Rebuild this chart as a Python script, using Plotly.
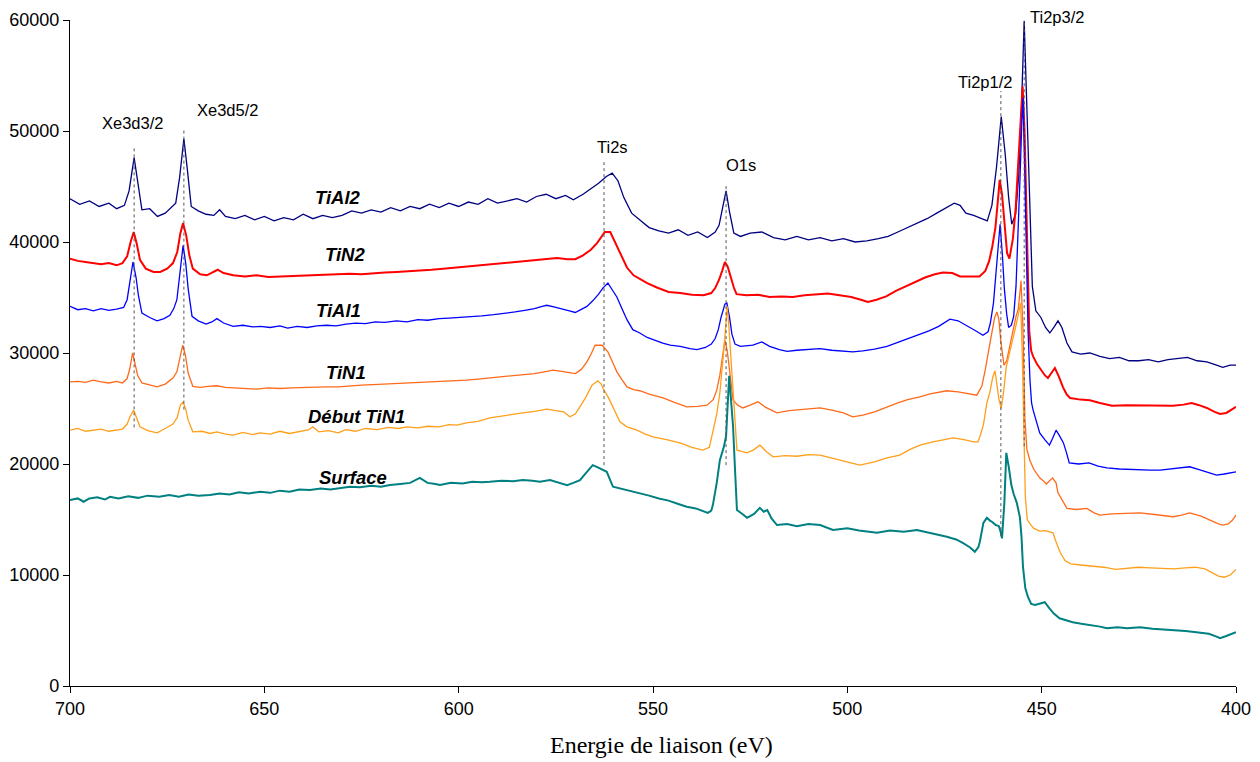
import plotly.graph_objects as go

# ---------------- data (binding energy eV, counts) ----------------
tial2 = [
    (700, 43900), (697.5, 43400), (695, 43700), (692.5, 43200), (690, 43500), (688, 43000), (686, 43300),
    (684.8, 44600), (683.5, 47600), (682.5, 45000), (681.5, 42900), (679.5, 43000), (677.5, 42300),
    (675.5, 42600), (674, 43100), (672.8, 43500), (671.8, 45800), (670.7, 49300), (669.8, 46500),
    (668.8, 43200), (667, 42800), (665, 42500), (663, 42400), (661.5, 42900), (660, 42300), (657.5, 42100),
    (655, 42400), (652.5, 42000), (650, 42300), (647.5, 41900), (645, 42200), (642.5, 42000), (640, 42500),
    (637.5, 42100), (635, 42400), (632.5, 42200), (630, 42400), (627.5, 42800), (625, 42600), (622.5, 42900),
    (620, 42700), (617.5, 43100), (615, 42800), (612.5, 43200), (610, 43000), (607.5, 43400), (605, 43100),
    (602.5, 43500), (600, 43200), (597.5, 43600), (595, 43400), (592.5, 43900), (590, 43500), (587.5, 43700),
    (585, 43900), (582.5, 43600), (580, 44100), (577.5, 44300), (575, 43900), (572.5, 44200), (570.5, 43800),
    (568, 44300), (566, 44800), (564, 45300), (562, 45900), (560.5, 46200), (559, 45500), (557.5, 44000),
    (555.5, 42600), (553.5, 42000), (551, 41300), (548.5, 41000), (546, 40800), (543.5, 41100), (541, 40600),
    (538.5, 40900), (536, 40400), (534, 40900), (533, 41500), (532.2, 42900), (531.2, 44600), (530.3, 42700),
    (529.2, 40800), (527.5, 40500), (525, 40800), (522, 40900), (519, 40400), (516, 40200), (513, 40500),
    (510, 40200), (507, 40400), (504, 40100), (501, 40300), (498, 40000), (495, 40100), (492, 40300),
    (489.5, 40500), (487, 40900), (484.5, 41300), (482, 41700), (479.5, 42100), (477, 42600), (474.5, 43100),
    (472.5, 43500), (471, 43300), (469.5, 42600), (467.5, 42400), (465.5, 42100), (464, 41900), (462.8, 43300),
    (461.6, 46800), (460.4, 51300), (459.4, 48000), (458.5, 44000), (457.7, 41600), (456.7, 42500),
    (455.9, 46000), (455.2, 52000), (454.5, 59900), (453.8, 52000), (453.2, 45000), (452.4, 36000),
    (451.5, 33800), (450.2, 33200), (449, 32300), (447.9, 31800), (446.7, 32400), (445.8, 32900),
    (444.8, 32300), (443.5, 30900), (442.2, 30100), (440, 29900), (437.6, 30000), (435, 29700), (432.5, 29500),
    (430, 29600), (427.5, 29300), (425, 29300), (422.5, 29400), (420, 29200), (417.5, 29400), (415, 29500),
    (412.5, 29600), (410, 29300), (407.5, 29200), (405, 28900), (403.4, 28700), (401.5, 28900), (400, 28900),
]

tin2 = [
    (700, 38500), (698, 38300), (696, 38200), (694, 38100), (692, 38000), (690, 38100), (688, 37900),
    (686.5, 38100), (685.3, 38700), (684.4, 40000), (683.6, 40900), (682.8, 39800), (682, 38400),
    (680.5, 37600), (678.5, 37300), (676.8, 37300), (675, 37600), (673.5, 38100), (672.4, 39100),
    (671.6, 40800), (670.9, 41700), (670.1, 40600), (669.3, 38800), (668.4, 37600), (666.5, 37100),
    (664.8, 37000), (663, 37300), (662, 37500), (660.5, 37200), (658, 37000), (655, 36900), (652, 37000),
    (649, 36850), (646, 36900), (643, 36900), (640, 36950), (637, 37000), (634, 37050), (631, 37100),
    (628, 37150), (625, 37100), (622, 37200), (619, 37250), (616, 37300), (613, 37350), (610, 37450),
    (607, 37500), (604, 37600), (601, 37700), (598, 37750), (595, 37850), (592, 37950), (589, 38050),
    (586, 38150), (583, 38250), (580, 38350), (577, 38450), (574.7, 38550), (572, 38450), (570, 38450),
    (568, 38800), (566, 39300), (564.4, 39900), (562.4, 40900), (561, 40900), (559.5, 39800), (558, 38600),
    (556.7, 37700), (555, 37000), (553, 36600), (551.5, 36300), (549, 35900), (546, 35500), (543, 35400),
    (540, 35250), (537, 35200), (535, 35400), (534, 35850), (533, 36600), (532.2, 37400), (531.5, 38200),
    (530.8, 37800), (530, 36800), (529.2, 35900), (528.5, 35300), (526, 35200), (523, 35250), (520, 35050),
    (517, 35100), (514, 35050), (511, 35200), (508, 35300), (505, 35350), (502, 35200), (499, 35050),
    (496.5, 34800), (494.7, 34600), (492.5, 34800), (490, 35100), (487.5, 35600), (485, 36000),
    (482.5, 36400), (480, 36800), (477.5, 37100), (475.4, 37250), (473, 37200), (471, 36900), (468.5, 36900),
    (466, 36900), (464.5, 37400), (463.5, 38300), (462.7, 39600), (461.9, 41300), (461.2, 44000),
    (460.8, 45600), (460.2, 44300), (459.6, 42000), (458.9, 39000), (458.3, 38500), (457.4, 40300),
    (456.7, 43000), (456.1, 46400), (455.5, 50500), (454.9, 54000), (454.4, 50000), (454, 44800),
    (453.6, 38000), (453.2, 32000), (452.7, 30200), (452.2, 29700), (451.2, 29000), (450.2, 28500),
    (449.2, 28000), (448.4, 27750), (447.5, 28200), (446.6, 28650), (445.6, 27900), (444.5, 26900),
    (443.6, 26300), (442.7, 25950), (440, 25800), (437.6, 25750), (435, 25500), (431.9, 25250), (428, 25300),
    (424.7, 25300), (420, 25250), (416.2, 25250), (413.5, 25350), (411.4, 25500), (409.5, 25300),
    (407.5, 25050), (405.5, 24700), (404.1, 24500), (402.5, 24600), (401, 24900), (400, 25150),
]

tial1 = [
    (700, 34200), (698, 33900), (696, 34000), (694, 33800), (692, 34000), (690, 33850), (688, 33950),
    (686.2, 34100), (685.3, 34800), (684.5, 36500), (683.8, 38200), (683, 36800), (682.4, 35200),
    (681.5, 33600), (679.5, 33200), (677.6, 32900), (675.8, 33100), (674.3, 33400), (673.3, 34000),
    (672.5, 34800), (671.7, 37000), (670.9, 39700), (670.2, 38000), (669.6, 35800), (668.6, 33300),
    (667, 32900), (665, 32600), (663.5, 32800), (662.2, 33100), (660.5, 32700), (658, 32400), (655.5, 32500),
    (653, 32350), (651, 32400), (648.5, 32300), (646, 32450), (644, 32250), (641.5, 32400), (639, 32300),
    (636.5, 32450), (634, 32500), (631.5, 32450), (629, 32600), (626.5, 32700), (624, 32650), (621.5, 32800),
    (619, 32750), (616, 32900), (613.3, 32800), (610.5, 33000), (608, 32950), (605, 33100), (602.5, 33150),
    (600, 33200), (597, 33300), (594, 33350), (591, 33450), (588, 33550), (585.5, 33700), (583, 33850),
    (580.5, 34000), (578.5, 34200), (577.3, 34300), (575.5, 34150), (573.5, 34000), (571.5, 33800),
    (570, 33650), (568.5, 33900), (567, 34200), (565.5, 34700), (564, 35300), (562.9, 35850), (561.6, 36300),
    (560.5, 35700), (559.3, 35050), (558, 34000), (556.7, 33000), (555.2, 32100), (553.4, 31800),
    (551.5, 31400), (550, 31200), (547.5, 30900), (545.6, 30700), (543, 30600), (540.5, 30400),
    (538.7, 30300), (536.5, 30500), (535, 30800), (534, 31300), (533.2, 32100), (532.5, 33200),
    (531.5, 34400), (531, 34500), (530.3, 33200), (529.7, 31700), (528.9, 30800), (527.5, 30600),
    (525.5, 30650), (524.3, 30700), (522, 31000), (520, 30600), (517.5, 30300), (515.5, 30150), (513, 30250),
    (510, 30300), (507, 30400), (504, 30250), (501, 30200), (498.6, 30100), (496, 30200), (493, 30350),
    (489.8, 30600), (487, 30950), (484.5, 31300), (481.3, 31700), (479, 32000), (476.5, 32400),
    (473.6, 33050), (471.5, 32900), (469.2, 32400), (467, 32000), (465.1, 31600), (463.8, 31900),
    (463.2, 32700), (462.4, 34500), (461.8, 37000), (461.2, 39300), (460.7, 41600), (460.1, 38800),
    (459.6, 35800), (459, 33500), (458.5, 32300), (457.8, 32500), (457.2, 33300), (456.6, 36000),
    (456.1, 40000), (455.6, 45500), (455.1, 50800), (454.8, 53000), (454.4, 47000), (454, 40000),
    (453.5, 32000), (453, 27500), (452.6, 25500), (452.2, 24850), (451.3, 23800), (450.5, 22800),
    (449.2, 22200), (448, 21700), (447.2, 22300), (446.3, 23050), (445.5, 22600), (444.4, 21900),
    (443.6, 21000), (442.9, 20100), (440.5, 20000), (437.8, 20100), (435.5, 19800), (433.2, 19650),
    (430, 19550), (427, 19500), (424.7, 19450), (422, 19450), (419.5, 19450), (417, 19550), (414.5, 19650),
    (411.9, 19750), (409.5, 19500), (407, 19200), (405, 19000), (403, 19100), (401.5, 19200), (400, 19300),
]

tin1 = [
    (700, 27400), (698, 27450), (696, 27350), (694, 27550), (692, 27400), (690, 27300), (688, 27450),
    (686.5, 27300), (685.3, 27700), (684.6, 28600), (683.9, 30000), (683.2, 29000), (682.6, 28000),
    (681.5, 27300), (679.5, 27100), (677.6, 26950), (675.5, 27200), (673.5, 27750), (672.5, 28300),
    (671.8, 29300), (671, 30700), (670.3, 29800), (669.6, 28200), (668.4, 27000), (666.5, 26900),
    (664.5, 27000), (662.2, 27050), (660, 26900), (657.5, 26850), (655, 26800), (652, 26750), (649, 26850),
    (646, 26800), (643, 26850), (640, 26900), (637, 26900), (634, 26950), (631, 26950), (628, 27050),
    (625, 27100), (622, 27150), (619, 27200), (616, 27250), (613, 27300), (610, 27300), (607, 27350),
    (604.8, 27400), (601, 27500), (598, 27550), (595, 27650), (592, 27750), (589, 27800), (586, 27900),
    (583.5, 28000), (580.5, 28150), (578, 28300), (575.7, 28450), (573.5, 28350), (571.5, 28200),
    (570, 28150), (568.5, 28500), (567, 29200), (565.8, 30000), (564.9, 30700), (563.1, 30700),
    (561.6, 30100), (560.3, 29100), (559.3, 28300), (558, 27600), (556.7, 26950), (555, 26700),
    (553.4, 26600), (551, 26300), (547.4, 25950), (544.5, 25550), (541.3, 25150), (538.5, 25200),
    (536.1, 25300), (534.5, 25800), (533.6, 26650), (532.8, 28000), (532.3, 29350), (531.5, 31150),
    (530.9, 30200), (530.3, 28300), (529.4, 25750), (528.2, 25300), (526.9, 25050), (525, 25300),
    (523, 25600), (521, 25100), (518.1, 24600), (515, 24800), (512, 24900), (509.5, 25000), (507, 25050),
    (504, 24850), (501, 24600), (498.6, 24250), (496, 24400), (493, 24700), (489.8, 25150), (487, 25500),
    (484.5, 25800), (481.3, 26050), (479, 26300), (476.5, 26500), (474.4, 26600), (471.5, 26500),
    (469, 26350), (466.7, 26200), (465.4, 27000), (464.5, 28500), (463.5, 30500), (462.8, 32000),
    (462.1, 33200), (461.5, 33700), (461, 33000), (460.5, 31000), (460, 29500), (459.7, 28900),
    (459, 29300), (458.2, 30650), (457.4, 32000), (456.6, 33300), (456, 34000), (455.6, 35500),
    (455.3, 36500), (454.8, 32000), (454.3, 24000), (453.8, 21300), (453, 20300), (452, 19500),
    (450.5, 18750), (449.6, 18500), (448.8, 18200), (447.2, 18750), (446.3, 18300), (445.8, 17400),
    (444.5, 16600), (443.5, 16000), (441, 15900), (438.4, 16000), (436.5, 15600), (435, 15400),
    (432, 15500), (429, 15550), (426, 15600), (424.7, 15600), (421, 15450), (418.5, 15350), (416.2, 15250),
    (414, 15400), (411.9, 15600), (409, 15300), (406.5, 14900), (404.5, 14600), (403.4, 14500),
    (402, 14600), (401, 14900), (400, 15400),
]

debut_tin1 = [
    (700, 23050), (698, 23200), (696, 22950), (694, 23050), (692, 23150), (690, 22950), (688, 23100),
    (686.5, 23150), (685.3, 23600), (684.5, 24300), (683.6, 24850), (682.8, 24100), (682, 23350),
    (680, 23000), (677.6, 22800), (675.5, 23200), (673.5, 23600), (672.4, 24200), (671.6, 25300),
    (670.9, 25600), (670.2, 24900), (669.6, 23950), (668.4, 22900), (666, 22950), (664, 22750),
    (662.2, 22900), (660, 22700), (658, 22600), (655.5, 22850), (653, 22650), (651.1, 22800), (648.5, 22700),
    (646, 22950), (643.5, 22750), (641, 22900), (638.5, 23100), (637.5, 23350), (636, 22900), (633.5, 23000),
    (631, 22800), (629, 23100), (626.5, 22950), (624, 23200), (621, 23100), (618, 23300), (615.5, 23200),
    (613.3, 23350), (610.5, 23250), (608, 23400), (605, 23350), (602.5, 23550), (600.4, 23500),
    (598, 23700), (595, 23850), (592, 24150), (589.5, 24300), (586.5, 24450), (583.5, 24600),
    (580.5, 24750), (577.3, 24950), (575, 24800), (573, 24700), (571.4, 24250), (570, 24500),
    (568.8, 25150), (567.3, 26000), (565.7, 27100), (564.2, 27500), (563.3, 27200), (562.9, 26850),
    (561.5, 26000), (560.3, 25150), (558.5, 23800), (556.7, 23350), (554.1, 23050), (552, 22700),
    (550, 22450), (546.5, 22200), (543.1, 21900), (540, 21500), (537.2, 21250), (535.5, 21500),
    (534.6, 22800), (533.6, 24500), (532.8, 26400), (532.2, 28500), (531.7, 30600), (531.2, 32800),
    (530.9, 34200), (530.5, 32500), (529.7, 28200), (529, 24500), (528.4, 21250), (525.8, 21000),
    (524, 21300), (522.5, 21700), (520.8, 21100), (519.1, 20650), (516, 20750), (513, 20700), (510, 20850),
    (507, 20800), (503.5, 20500), (500, 20200), (496.8, 19900), (493, 20200), (489.8, 20550), (486.5, 20800),
    (484, 21300), (481.3, 21700), (478, 22000), (475, 22200), (472.8, 22350), (470, 22200), (467.5, 22000),
    (466.4, 22000), (465.9, 22450), (465, 23500), (464.1, 25500), (463.3, 26500), (462.6, 27800),
    (462, 28400), (461, 25850), (460.4, 25000), (459.8, 26500), (459.1, 28750), (458.2, 30000),
    (457.4, 31300), (456.6, 32500), (455.9, 33550), (455.4, 34500), (455, 30000), (454.6, 22000),
    (454.2, 17000), (453.7, 15000), (453, 14600), (452, 14200), (450.5, 13950), (449, 14000),
    (447.8, 13900), (447.1, 13800), (446.3, 13000), (445.2, 12000), (444, 11300), (442.5, 11000),
    (440, 10900), (437, 10800), (434, 10700), (431, 10500), (428, 10600), (425, 10700), (422, 10650),
    (419, 10600), (416, 10550), (413, 10650), (410.5, 10700), (408, 10550), (406, 10200), (404.5, 9900),
    (403, 9800), (401.5, 10000), (400, 10500),
]

surface = [
    (700, 16750), (698, 16900), (696.5, 16600), (695, 16900), (693, 17000), (691, 16800), (689.7, 17050),
    (687.5, 16900), (685, 17100), (682.5, 16950), (680, 17150), (677, 17050), (674.5, 17200), (672, 17050),
    (669.5, 17250), (667, 17150), (664, 17200), (661.5, 17350), (659, 17250), (656.5, 17450), (654, 17350),
    (651.1, 17500), (648.5, 17400), (646, 17600), (643.5, 17500), (641, 17700), (638.3, 17650),
    (635.5, 17800), (633, 17700), (630.5, 17800), (628, 17950), (625.4, 17900), (622.5, 18050),
    (620, 17950), (617.7, 18100), (615, 18200), (612.5, 18300), (610, 18750), (608, 18300), (606, 18200),
    (604.8, 18100), (602, 18300), (599, 18250), (596.5, 18400), (594, 18350), (592, 18400), (589, 18500),
    (586, 18450), (583.5, 18550), (581, 18500), (579.1, 18400), (576.5, 18550), (574, 18300),
    (572.1, 18100), (570.5, 18300), (568.8, 18550), (567, 19300), (565.5, 19900), (564.2, 19700),
    (562.9, 19450), (561.9, 19300), (560.3, 17950), (558.5, 17800), (556.7, 17650), (554.5, 17450),
    (553.4, 17400), (551, 17150), (548.5, 16900), (546, 16700), (543.5, 16400), (541.3, 16150),
    (539, 16000), (536.8, 15700), (535.9, 15600), (535, 15800), (534.6, 16300), (533.6, 18300),
    (532.8, 20350), (531.8, 21500), (531.2, 22500), (530.4, 27950), (529.9, 26000), (529.4, 23350),
    (528.9, 19500), (528.4, 15850), (527, 15500), (525.8, 15150), (524, 15500), (522.5, 16050),
    (521.5, 15700), (520.6, 15850), (519.5, 15100), (518.1, 14500), (515.5, 14600), (513, 14400),
    (510, 14600), (507, 14500), (503.7, 14050), (500, 14200), (497, 14000), (494.2, 13900), (492.4, 13800),
    (489, 14000), (485.5, 13900), (482.1, 14050), (479, 13800), (476.5, 13650), (474.4, 13450),
    (472, 13200), (470.3, 12900), (468.5, 12500), (467.2, 12100), (466.3, 12500), (465.9, 13000),
    (465, 14700), (464.1, 15150), (463.3, 14900), (462.8, 14800), (461.8, 14500), (461, 14400),
    (460.5, 13800), (460.2, 13300), (459.6, 16500), (459.1, 21000), (458.5, 19800), (457.8, 18100),
    (457.2, 17300), (456.4, 16500), (455.6, 15200), (455.2, 13500), (454.8, 10700), (454.2, 8800),
    (453.5, 8000), (452.7, 7400), (451.7, 7300), (450.5, 7450), (449.2, 7550), (448, 7000), (446.8, 6500),
    (445.4, 6100), (443.7, 5900), (442, 5750), (439.8, 5600), (437.6, 5500), (435, 5350), (433.2, 5200),
    (430.5, 5300), (428, 5200), (424.7, 5300), (421.5, 5150), (418.8, 5100), (416.2, 5050), (413, 4950),
    (410.2, 4850), (407, 4700), (405, 4450), (404.1, 4300), (402.5, 4500), (401, 4700), (400, 4850),
]

series_names = ["TiAl2", "TiN2", "TiAl1", "TiN1", "Début TiN1", "Surface"]
series_data = [tial2, tin2, tial1, tin1, debut_tin1, surface]
series_colors = ["#000080", "#FF0000", "#0000FF", "#FF6A1A", "#FF9F1A", "#008080"]
series_widths = [1.3, 2.0, 1.3, 1.3, 1.3, 2.0]
label_pos = [(631.1, 44050), (629.3, 38830), (630.8, 33870), (629.0, 28200), (626.2, 24320), (627.2, 18740)]

peak_names = ["Xe3d3/2", "Xe3d5/2", "Ti2s", "O1s", "Ti2p1/2", "Ti2p3/2"]
peak_energy = [683.5, 670.7, 562.6, 531.2, 460.5, 454.5]
peak_line_low = [23300, 24900, 19900, 19900, 13500, 21600]
peak_line_high = [48700, 50300, 47200, 45100, 53600, 60000]
peak_label_pos = [(683.8, 50700), (659.6, 51850), (560.3, 48600), (527.3, 46900), (464.6, 54450), (446.0, 59900)]

x_title = "Energie de liaison (eV)"

# ---------------- figure ----------------
fig = go.Figure()
for name, pts, col, w in zip(series_names, series_data, series_colors, series_widths):
    fig.add_trace(go.Scatter(
        x=[p[0] for p in pts], y=[p[1] for p in pts], mode="lines", name=name,
        line=dict(color=col, width=w), showlegend=False, hoverinfo="skip",
    ))

for e, lo, hi in zip(peak_energy, peak_line_low, peak_line_high):
    fig.add_shape(type="line", x0=e, x1=e, y0=lo, y1=hi, xref="x", yref="y",
                  line=dict(color="#555555", width=1, dash="dot"), layer="above")

for i, (name, (lx, ly)) in enumerate(zip(peak_names, peak_label_pos)):
    fig.add_annotation(x=lx, y=ly, text=name, showarrow=False, xref="x", yref="y",
                       yshift=4 if i == 5 else 0,
                       font=dict(family="Arial, Liberation Sans", size=16.5, color="#000000"))

for name, (lx, ly) in zip(series_names, label_pos):
    fig.add_annotation(x=lx, y=ly, text="<b><i>%s</i></b>" % name, showarrow=False, xref="x", yref="y",
                       font=dict(family="Arial, Liberation Sans", size=18.5, color="#000000"))

# x-axis title placed as paper annotation (slightly right of plot centre, as in the original)
fig.add_annotation(x=0.507, y=-0.0886, xref="paper", yref="paper", text=x_title, showarrow=False,
                   xanchor="center", yanchor="middle",
                   font=dict(family="Times New Roman, Liberation Serif", size=24, color="#000000"))

# page body has an 8px margin: offsets compensate so the plot area spans x 70-1236, y 20-686
fig.update_layout(
    width=1260, height=762,
    margin=dict(l=62, r=32, t=12, b=84),
    paper_bgcolor="white", plot_bgcolor="white",
    font=dict(family="Arial, Liberation Sans", size=18, color="#000000"),
    xaxis=dict(
        range=[700, 400], tickmode="array", tickvals=[700, 650, 600, 550, 500, 450, 400],
        showgrid=False, zeroline=False, showline=True, linecolor="#000000", linewidth=1.3,
        ticks="outside", ticklen=6, tickcolor="#000000", automargin=False,
    ),
    yaxis=dict(
        range=[0, 60000], tickmode="array", tickvals=[0, 10000, 20000, 30000, 40000, 50000, 60000],
        tickformat="d", showgrid=False, zeroline=False, showline=True, linecolor="#000000", linewidth=1.3,
        ticks="outside", ticklen=6, tickcolor="#000000", automargin=False,
    ),
)

fig.write_html("out.html")
